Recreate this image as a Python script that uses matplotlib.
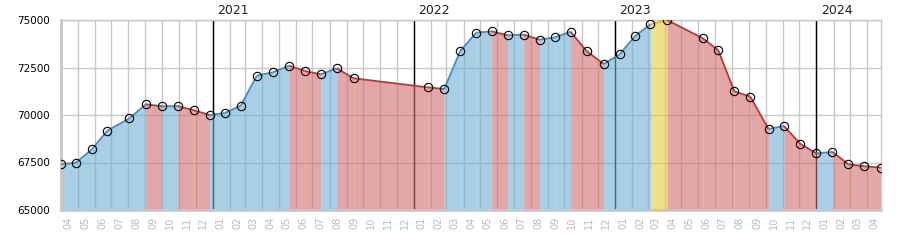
import numpy as np
import pandas as pd
import matplotlib
matplotlib.use("Agg")
import matplotlib.pyplot as plt
import matplotlib.dates as mdates
from matplotlib.transforms import blended_transform_factory

# sample dates and values
dates = pd.to_datetime([
    "2020-04-01", "2020-04-28", "2020-05-27", "2020-06-24", "2020-08-03",
    "2020-09-02", "2020-10-01", "2020-10-30", "2020-11-28", "2020-12-27",
    "2021-01-23", "2021-02-21", "2021-03-22", "2021-04-20", "2021-05-20",
    "2021-06-17", "2021-07-16", "2021-08-14", "2021-09-14", "2022-01-26",
    "2022-02-25", "2022-03-26", "2022-04-24", "2022-05-22", "2022-06-20",
    "2022-07-19", "2022-08-17", "2022-09-14", "2022-10-12", "2022-11-10",
    "2022-12-11", "2023-01-09", "2023-02-06", "2023-03-06", "2023-04-05",
    "2023-06-09", "2023-07-07", "2023-08-05", "2023-09-03", "2023-10-06",
    "2023-11-03", "2023-12-03", "2024-01-01", "2024-01-30", "2024-02-28",
    "2024-03-28", "2024-04-27",
])
values = np.array([
    67405, 67490, 68195, 69175, 69825,
    70563, 70458, 70470, 70247, 70000,
    70105, 70490, 72070, 72245, 72595,
    72316, 72140, 72456, 71930, 71456,
    71368, 73368, 74333, 74404, 74193,
    74228, 73965, 74088, 74386, 73368,
    72684, 73193, 74158, 74772, 75000,
    74035, 73404, 71246, 70965, 69263,
    69421, 68474, 67982, 68053, 67405,
    67300, 67226,
])
peak_segments = [33]   # segment drawn in yellow
years = [2021, 2022, 2023, 2024]

fill_cols = {"up": (110/255, 175/255, 212/255), "down": (208/255, 110/255, 110/255),
             "peak": (233/255, 202/255, 63/255)}
line_cols = {"up": "#3a8fc8", "down": "#c83232", "peak": "#e8b400"}

fig = plt.figure(figsize=(9, 2.5), dpi=100)
ax = fig.add_axes([61/900, 1-210/250, 820/900, 190/250])

ymin, ymax = 65000, 75000
trend = []
for i in range(len(values)-1):
    if i in peak_segments:
        trend.append("peak")
    elif values[i+1] >= values[i]:
        trend.append("up")
    else:
        trend.append("down")

for i, t in enumerate(trend):
    xs = dates[i:i+2]
    ys = values[i:i+2]
    ax.fill_between(xs, ys, ymin, color=fill_cols[t], alpha=0.6, lw=0,
                    antialiased=False, zorder=2)
    ax.plot(xs, ys, color=line_cols[t], lw=1.3, zorder=3, solid_capstyle="butt")

ax.plot(dates, values, "o", ms=6, mfc="none", mec="black", mew=0.8, zorder=4)

# year separators
tr = blended_transform_factory(ax.transData, ax.transAxes)
for y in years:
    d = pd.Timestamp(f"{y}-01-01")
    ax.axvline(d, color="black", lw=1, zorder=1)
    ax.annotate(str(y), xy=(mdates.date2num(d), 1.0), xycoords=tr,
                xytext=(3, 2), textcoords="offset points",
                ha="left", va="bottom", fontsize=9, color="#222222")

ax.set_xlim(dates[0], dates[-1])
ax.set_ylim(ymin, ymax)

ax.xaxis.set_major_locator(mdates.MonthLocator())
ax.xaxis.set_major_formatter(plt.NullFormatter())
ax.xaxis.set_minor_locator(mdates.MonthLocator(bymonthday=15))
ax.xaxis.set_minor_formatter(mdates.DateFormatter("%m"))
ax.tick_params(axis="x", which="both", length=0)
ax.tick_params(axis="x", which="minor", labelsize=7, labelcolor="#bbbbbb",
               rotation=90, pad=5)
ax.set_yticks(np.arange(ymin, ymax + 1, 2500))
ax.tick_params(axis="y", length=0, labelsize=7.5, pad=8)

ax.grid(True, which="major", color="#c8c8c8", lw=1, zorder=0)
ax.set_axisbelow(True)

for s in ["top", "right"]:
    ax.spines[s].set_color("#c8c8c8")
    ax.spines[s].set_linewidth(1)
for s in ["left", "bottom"]:
    ax.spines[s].set_color("#c8c8c8")
    ax.spines[s].set_linewidth(2)

fig.savefig("out.png", dpi=100)
